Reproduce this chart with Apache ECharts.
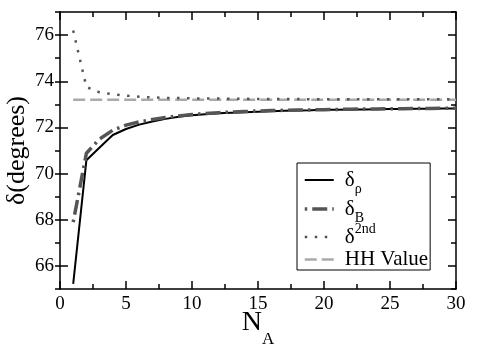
<!DOCTYPE html>
<html>
<head>
<meta charset="utf-8">
<script src="https://cdn.jsdelivr.net/npm/echarts@6/dist/echarts.min.js"></script>
<style>
  html, body { margin: 0; padding: 0; background: #fff; }
  #chart { width: 491px; height: 350px; }
</style>
</head>
<body>
<div id="chart"></div>
<script>
  // N_A values
  var nA = [1, 2, 3, 4, 5, 6, 7, 8, 9, 10, 11, 12, 13, 14, 15, 16, 17, 18, 19, 20,
            21, 22, 23, 24, 25, 26, 27, 28, 29, 30];
  // delta_rho (solid)
  var deltaRho = [65.22, 70.58, 71.13, 71.67, 71.93, 72.12, 72.26, 72.37, 72.46, 72.53,
                  72.57, 72.61, 72.64, 72.66, 72.68, 72.7, 72.72, 72.73, 72.74, 72.76,
                  72.77, 72.78, 72.78, 72.79, 72.8, 72.8, 72.81, 72.81, 72.82, 72.82];
  // delta_B (dash-dot)
  var deltaB = [67.9, 70.88, 71.5, 71.88, 72.1, 72.24, 72.34, 72.43, 72.5, 72.56,
                72.6, 72.64, 72.67, 72.69, 72.71, 72.73, 72.74, 72.75, 72.76, 72.77,
                72.78, 72.79, 72.8, 72.8, 72.81, 72.81, 72.82, 72.82, 72.83, 72.83];
  // delta^2nd (dotted)
  var delta2nd = [76.2, 73.75, 73.52, 73.44, 73.38, 73.33, 73.3, 73.28, 73.27, 73.26,
                  73.25, 73.25, 73.24, 73.24, 73.23, 73.23, 73.23, 73.23, 73.22, 73.22,
                  73.22, 73.22, 73.22, 73.22, 73.22, 73.22, 73.22, 73.22, 73.22, 73.22];
  // HH value (dashed, constant)
  var hhValue = 73.2;
  var hhRange = [1, 30];

  var yMajor = [66, 68, 70, 72, 74, 76];
  var serif = 'Liberation Serif';

  function pairs(xs, ys) {
    var out = [];
    for (var i = 0; i < xs.length; i++) {
      out.push([xs[i], ys[i]]);
    }
    return out;
  }

  var legendText = {
    'rho': '{d|δ}{sub|ρ}',
    'B': '{d|δ}{sub|B}',
    '2nd': '{d|δ}{sup|2nd}',
    'HH': '{t|HH Value}'
  };

  var tickLine = { color: '#000', width: 1.5 };
  var tickLabel = {
    margin: 6,
    fontFamily: serif,
    fontSize: 19,
    color: '#000',
    formatter: function (v) { return '{a|' + v + '}'; },
    rich: { a: { fontFamily: serif, fontSize: 19, color: '#000' } }
  };

  var option = {
    animation: false,
    backgroundColor: '#fff',
    textStyle: { fontFamily: serif, color: '#000' },
    grid: { left: 60, right: 35, top: 12, bottom: 61, outerBoundsMode: 'none' },
    legend: {
      orient: 'vertical',
      left: 297,
      top: 163,
      padding: [1, 2, 0, 6],
      itemWidth: 29,
      itemHeight: 14,
      itemGap: -3,
      borderColor: '#000',
      borderWidth: 1,
      backgroundColor: '#fff',
      data: ['rho', 'B', '2nd', 'HH'],
      lineStyle: { width: 'inherit', type: 'inherit' },
      itemStyle: { opacity: 0 },
      formatter: function (name) {
        return legendText[name];
      },
      textStyle: {
        fontFamily: serif,
        fontSize: 21,
        color: '#000',
        rich: {
          d: { fontFamily: serif, fontSize: 21, lineHeight: 26, color: '#000', padding: [0, 0, 0, 6] },
          sub: { fontFamily: serif, fontSize: 14, lineHeight: 10, color: '#000', padding: [18, 0, 0, 0] },
          sup: { fontFamily: serif, fontSize: 14, lineHeight: 10, color: '#000', padding: [0, 0, 16, 0] },
          t: { fontFamily: serif, fontSize: 21, lineHeight: 26, color: '#000', padding: [0, 0, 0, 6] }
        }
      }
    },
    xAxis: [{
      type: 'value',
      min: 0,
      max: 30,
      interval: 5,
      name: '{n|N}{s|A}',
      nameLocation: 'middle',
      nameGap: 9,
      nameMoveOverlap: false,
      nameTextStyle: {
        rich: {
          n: { fontFamily: serif, fontSize: 28, color: '#000' },
          s: { fontFamily: serif, fontSize: 17, color: '#000', padding: [33, 0, 0, 0] }
        }
      },
      axisLine: { lineStyle: tickLine },
      axisTick: { inside: true, length: 8, lineStyle: tickLine },
      minorTick: { show: true, splitNumber: 2, length: 5, lineStyle: tickLine },
      axisLabel: tickLabel,
      splitLine: { show: false }
    }, {
      type: 'value',
      position: 'top',
      min: 0,
      max: 30,
      interval: 5,
      axisLine: { lineStyle: tickLine },
      axisTick: { inside: true, length: 8, lineStyle: tickLine },
      minorTick: { show: true, splitNumber: 2, length: 5, lineStyle: tickLine },
      axisLabel: { show: false },
      splitLine: { show: false }
    }],
    yAxis: [{
      type: 'value',
      min: 65,
      max: 77,
      name: 'δ(degrees)',
      nameLocation: 'middle',
      nameGap: 30,
      nameMoveOverlap: false,
      nameTextStyle: { fontFamily: serif, fontSize: 26, color: '#000' },
      axisLine: { lineStyle: tickLine },
      axisTick: { inside: true, length: 8, customValues: yMajor, lineStyle: tickLine },
      axisLabel: Object.assign({ customValues: yMajor }, tickLabel),
      splitLine: { show: false }
    }, {
      type: 'value',
      min: 65,
      max: 77,
      interval: 1,
      axisLine: { show: false },
      axisTick: { inside: true, length: 5, lineStyle: tickLine },
      axisLabel: { show: false },
      splitLine: { show: false }
    }, {
      type: 'value',
      position: 'right',
      min: 65,
      max: 77,
      axisLine: { lineStyle: tickLine },
      axisTick: { inside: true, length: 8, customValues: yMajor, lineStyle: tickLine },
      axisLabel: { show: false, customValues: yMajor },
      splitLine: { show: false }
    }, {
      type: 'value',
      position: 'right',
      min: 65,
      max: 77,
      interval: 1,
      axisLine: { show: false },
      axisTick: { inside: true, length: 5, lineStyle: tickLine },
      axisLabel: { show: false },
      splitLine: { show: false }
    }],
    series: [{
      name: 'rho',
      type: 'line',
      z: 3,
      symbol: 'none',
      data: pairs(nA, deltaRho),
      lineStyle: { color: '#000', width: 2 },
      itemStyle: { color: '#000' }
    }, {
      name: 'B',
      type: 'line',
      z: 4,
      symbol: 'none',
      data: pairs(nA, deltaB),
      lineStyle: { color: '#555', width: 3.5, type: [2.5, 5, 15, 5] },
      itemStyle: { color: '#555' }
    }, {
      name: '2nd',
      type: 'line',
      z: 5,
      symbol: 'none',
      data: pairs(nA, delta2nd),
      lineStyle: { color: '#555', width: 2.5, type: [2.5, 7.5] },
      itemStyle: { color: '#555' }
    }, {
      name: 'HH',
      type: 'line',
      z: 2,
      symbol: 'none',
      data: [[hhRange[0], hhValue], [hhRange[1], hhValue]],
      lineStyle: { color: '#aaa', width: 2.5, type: [12, 5] },
      itemStyle: { color: '#aaa' }
    }]
  };

  var myChart = echarts.init(document.getElementById('chart'));
  myChart.setOption(option);
</script>
</body>
</html>
